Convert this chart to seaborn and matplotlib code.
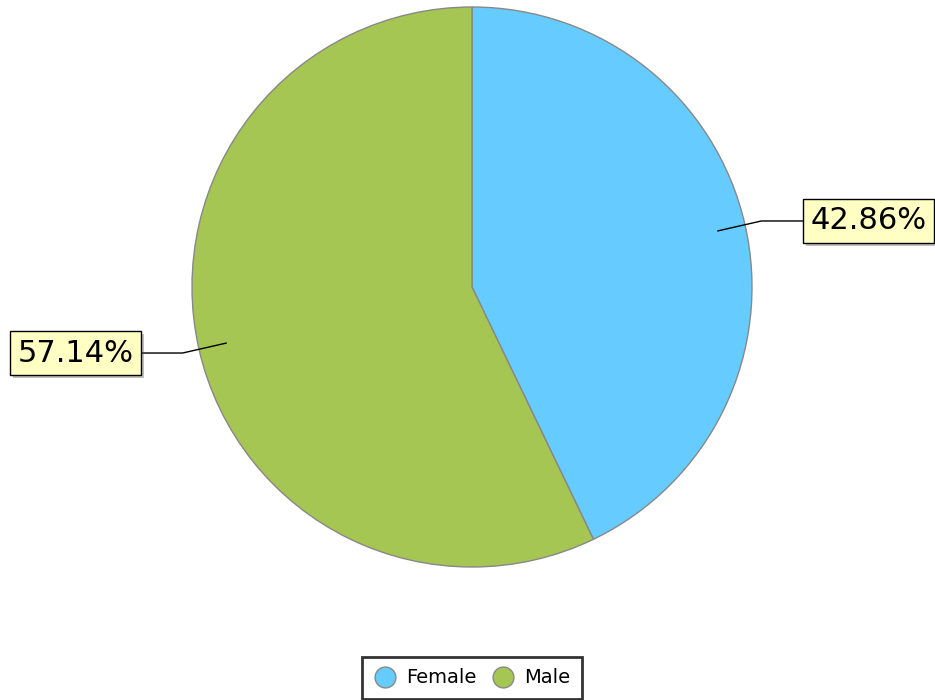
import numpy as np
import matplotlib
matplotlib.use("Agg")
import matplotlib.pyplot as plt
import matplotlib.patheffects as pe
from matplotlib.lines import Line2D
import seaborn as sns

labels = ["Female", "Male"]
values = [42.86, 57.14]
colors = ["#66CCFF", "#A6C653"]

sns.set_theme(style="white")
plt.rcParams["font.family"] = ["DejaVu Sans"]
plt.rcParams["text.color"] = "black"

W, H = 935, 700
fig = plt.figure(figsize=(W / 100, H / 100), dpi=100)
ax = fig.add_axes([0, 0, 1, 1])
ax.set_xlim(0, W)
ax.set_ylim(0, H)
ax.axis("off")

cx, cy, R = 472, H - 287, 280
wedges, _ = ax.pie(values, colors=sns.color_palette(colors), startangle=90,
                   counterclock=False, center=(cx, cy), radius=R,
                   wedgeprops=dict(edgecolor="#888888", linewidth=1))
ax.set_xlim(0, W)
ax.set_ylim(0, H)

for w, v in zip(wedges, values):
    mid = np.deg2rad((w.theta1 + w.theta2) / 2)
    c, s = np.cos(mid), np.sin(mid)
    x0, y0 = cx + 0.9 * R * c, cy + 0.9 * R * s
    x1, y1 = cx + 1.06 * R * c, cy + 1.06 * R * s
    side = 1 if c > 0 else -1
    x2 = x1 + side * 43
    ax.plot([x0, x1, x2], [y0, y1, y1], color="black", lw=1, solid_joinstyle="miter")
    t = ax.text(x2 + side * 6, y1, f"{v:.2f}%", ha="left" if side > 0 else "right",
                va="center", fontsize=22, color="black",
                bbox=dict(boxstyle="square,pad=0.24", facecolor="#FFFFC4",
                          edgecolor="black", linewidth=1))
    t.get_bbox_patch().set_path_effects([pe.SimplePatchShadow(offset=(2, -2), alpha=0.35),
                                         pe.Normal()])

handles = [Line2D([], [], marker="o", linestyle="none", markersize=15,
                  markerfacecolor=col, markeredgecolor="#888888", markeredgewidth=1)
           for col in colors]
leg = ax.legend(handles, labels, loc="lower center", bbox_to_anchor=(472 / W, 1.0 / H),
                ncol=2, frameon=True, fontsize=14, handlelength=1.1, handletextpad=0.55,
                columnspacing=0.8, borderpad=0.6, borderaxespad=0, fancybox=False,
                labelcolor="black")
leg.get_frame().set_edgecolor("black")
leg.get_frame().set_linewidth(2)

fig.savefig("out.png", dpi=100)
